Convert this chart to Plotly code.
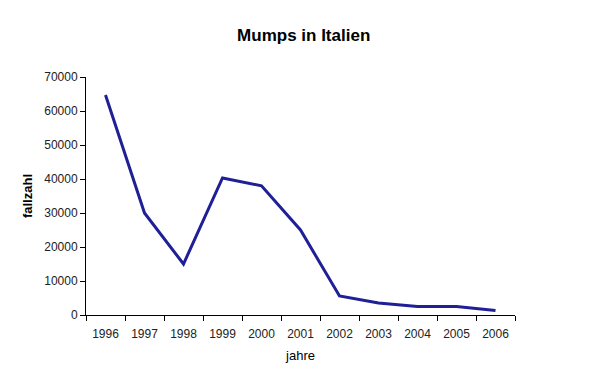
import plotly.graph_objects as go

years = ["1996", "1997", "1998", "1999", "2000", "2001", "2002", "2003", "2004", "2005", "2006"]
cases = [64700, 30000, 15000, 40300, 38000, 25000, 5600, 3500, 2500, 2500, 1300]

font_family = "Liberation Sans, Arial, sans-serif"

fig = go.Figure()
fig.add_trace(go.Scatter(
    x=years, y=cases, mode="lines",
    line=dict(color="#1f1f96", width=3),
    showlegend=False,
))

fig.update_layout(
    width=601, height=390,
    margin=dict(l=78, r=94, t=69, b=83, autoexpand=False),
    paper_bgcolor="white", plot_bgcolor="white",
    font=dict(family=font_family, size=12, color="#222"),
    title=dict(text="<b>Mumps in Italien</b>", x=0.492, xanchor="center",
               y=1 - 27 / 390, yanchor="middle", automargin=False,
               font=dict(family=font_family, size=17, color="black")),
)
fig.update_xaxes(
    type="category", range=[-0.5, 10.5], tickson="boundaries",
    ticks="outside", ticklen=5, ticklabelstandoff=8,
    tickcolor="black", showline=True, linecolor="black", linewidth=1,
    showgrid=False, zeroline=False, automargin=False,
    title=dict(text="jahre", font=dict(size=13, color="black"), standoff=10),
)
fig.update_yaxes(
    range=[0, 70000], dtick=10000, ticks="outside", ticklen=5,
    tickcolor="black", showline=True, linecolor="black", linewidth=1,
    showgrid=False, zeroline=False, tickformat="d", automargin=False,
    title=dict(text="<b>fallzahl</b>", font=dict(size=13, color="black"), standoff=8),
)

fig.write_html("out.html")
